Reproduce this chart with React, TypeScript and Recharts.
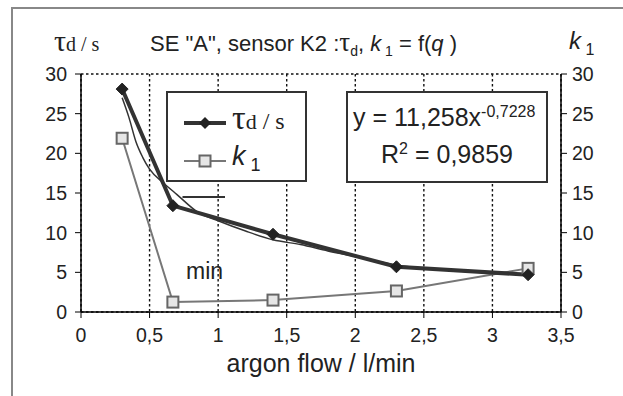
import React from "react";
import {
  CartesianGrid,
  Line,
  LineChart,
  ReferenceLine,
  XAxis,
  YAxis,
} from "recharts";

const flowTicks = [0, 0.5, 1, 1.5, 2, 2.5, 3, 3.5];
const valueTicks = [0, 5, 10, 15, 20, 25, 30];

const flow = [0.3, 0.67, 1.4, 2.3, 3.26];
const tauD = [28.1, 13.4, 9.8, 5.7, 4.7];
const k1 = [21.9, 1.25, 1.5, 2.65, 5.5];

// power trend line as drawn in the picture
const trendFlow = [0.3, 0.35, 0.4, 0.45, 0.5, 0.6, 0.7, 0.85, 1.0, 1.2, 1.4, 1.6, 1.8, 2.0, 2.3, 2.7, 3.0, 3.26];
const trendTau = [27, 24.5, 21.5, 19.5, 18, 16.3, 14.8, 12.6, 11.5, 10.2, 9.1, 8.5, 7.7, 7.0, 5.9, 5.3, 5.0, 4.8];

const tauRows = flow.map((x, i) => ({ x, y: tauD[i] }));
const k1Rows = flow.map((x, i) => ({ x, y: k1[i] }));
const trendRows = trendFlow.map((x, i) => ({ x, y: trendTau[i] }));

const SANS = "'Liberation Sans', Arial, sans-serif";
const SERIF = "'Liberation Serif', 'Times New Roman', serif";

const comma = (v: number) => String(v).replace(".", ",");

function Diamond(props: any) {
  const { cx, cy } = props;
  if (cx == null || cy == null) return null;
  const r = 6;
  return (
    <polygon
      points={`${cx},${cy - r} ${cx + r},${cy} ${cx},${cy + r} ${cx - r},${cy}`}
      fill="#222"
      stroke="#222"
    />
  );
}

function Square(props: any) {
  const { cx, cy } = props;
  if (cx == null || cy == null) return null;
  return <rect x={cx - 5.5} y={cy - 5.5} width={11} height={11} fill="#e6e6e6" stroke="#666" strokeWidth={2} />;
}

const tick = { fill: "#222", fontSize: 19.5, fontFamily: SANS };

export default function App() {
  return (
    <div style={{ position: "fixed", left: 0, top: 0, width: 623, height: 396, background: "#fff", fontFamily: SANS }}>
      {/* frame */}
      <div style={{ position: "absolute", left: 11, top: 7, width: 612, height: 389, borderLeft: "2px solid #888", borderTop: "2px solid #888" }} />

      <LineChart width={623} height={396} margin={{ top: 74, right: 12, bottom: 54, left: 20 }}>
        <CartesianGrid stroke="#111" strokeDasharray="2.5 2.5" strokeWidth={1.4} />
        <XAxis
          type="number"
          dataKey="x"
          domain={[0, 3.5]}
          ticks={flowTicks}
          tickFormatter={comma}
          tick={tick}
          tickSize={6}
          tickMargin={10}
          height={30}
          axisLine={{ stroke: "#000", strokeWidth: 1.5 }}
          tickLine={{ stroke: "#000" }}
        />
        <YAxis
          yAxisId="l"
          type="number"
          domain={[0, 30]}
          ticks={valueTicks}
          tick={tick}
          tickSize={6}
          tickMargin={8}
          width={61}
          axisLine={{ stroke: "#000", strokeWidth: 1.5 }}
          tickLine={{ stroke: "#000" }}
        />
        <YAxis
          yAxisId="r"
          orientation="right"
          type="number"
          domain={[0, 30]}
          ticks={valueTicks}
          tick={tick}
          tickSize={6}
          tickMargin={5}
          width={50}
          axisLine={{ stroke: "#000", strokeWidth: 1.5 }}
          tickLine={{ stroke: "#000" }}
        />
        <ReferenceLine
          yAxisId="l"
          segment={[{ x: 0.74, y: 14.5 }, { x: 1.05, y: 14.5 }]}
          stroke="#333"
          strokeWidth={2}
        />
        <Line
          yAxisId="r"
          data={k1Rows}
          dataKey="y"
          stroke="#777"
          strokeWidth={2}
          dot={<Square />}
          isAnimationActive={false}
        />
        <Line
          yAxisId="l"
          data={trendRows}
          dataKey="y"
          type="monotone"
          stroke="#333"
          strokeWidth={1.5}
          dot={false}
          isAnimationActive={false}
        />
        <Line
          yAxisId="l"
          data={tauRows}
          dataKey="y"
          stroke="#333"
          strokeWidth={4}
          dot={<Diamond />}
          isAnimationActive={false}
        />
      </LineChart>

      {/* title and axis labels */}
      <div style={{ position: "absolute", left: 150, top: 27, fontSize: 22, color: "#222", whiteSpace: "nowrap" }}>
        SE "A", sensor K2 :<span style={{ fontFamily: SERIF, fontSize: 27 }}>τ</span>
        <sub style={{ fontSize: 14 }}>d</sub>, <i>k</i>
        <sub style={{ fontSize: 14 }}> 1</sub> = f(<i>q</i> )
      </div>
      <div style={{ position: "absolute", left: 54, top: 24, fontFamily: SERIF, fontSize: 30, color: "#222", whiteSpace: "nowrap" }}>
        τ<span style={{ fontSize: 20 }}>d / s</span>
      </div>
      <div style={{ position: "absolute", left: 569, top: 27, fontSize: 24, color: "#222", whiteSpace: "nowrap" }}>
        <i>k</i>
        <sub style={{ fontSize: 16 }}> 1</sub>
      </div>
      <div style={{ position: "absolute", left: 81, width: 480, top: 349, textAlign: "center", fontSize: 25, color: "#222" }}>
        argon flow / l/min
      </div>
      <div style={{ position: "absolute", left: 186, top: 258, fontSize: 23, color: "#222" }}>min</div>

      {/* legend */}
      <div style={{ position: "absolute", left: 166, top: 91, width: 137, height: 87, border: "2px solid #333", background: "#fff" }}>
        <svg width={60} height={86} style={{ position: "absolute", left: 14, top: 0 }}>
          <line x1={2} y1={30} x2={44} y2={30} stroke="#333" strokeWidth={4} />
          <polygon points="23,24 29,30 23,36 17,30" fill="#222" />
          <line x1={2} y1={68} x2={44} y2={68} stroke="#777" strokeWidth={2} />
          <rect x={17.5} y={62.5} width={11} height={11} fill="#e6e6e6" stroke="#666" strokeWidth={2} />
        </svg>
        <div style={{ position: "absolute", left: 64, top: 6, fontFamily: SERIF, fontSize: 34, color: "#222", whiteSpace: "nowrap" }}>
          τ<span style={{ fontSize: 22 }}>d</span>
          <span style={{ fontSize: 24 }}> / s</span>
        </div>
        <div style={{ position: "absolute", left: 64, top: 48, fontSize: 27, color: "#222", whiteSpace: "nowrap" }}>
          <i>k</i>
          <sub style={{ fontSize: 18 }}> 1</sub>
        </div>
      </div>

      {/* trend equation */}
      <div style={{ position: "absolute", left: 346, top: 91, width: 198, height: 88, border: "2px solid #333", background: "#fff", color: "#222", textAlign: "center" }}>
        <div style={{ position: "absolute", left: 5, top: 10, fontSize: 25, whiteSpace: "nowrap" }}>
          y = 11,258x<sup style={{ fontSize: 16 }}>-0,7228</sup>
        </div>
        <div style={{ position: "absolute", left: 0, width: 198, top: 47, fontSize: 25, whiteSpace: "nowrap" }}>
          R<sup style={{ fontSize: 16 }}>2</sup> = 0,9859
        </div>
      </div>
    </div>
  );
}
